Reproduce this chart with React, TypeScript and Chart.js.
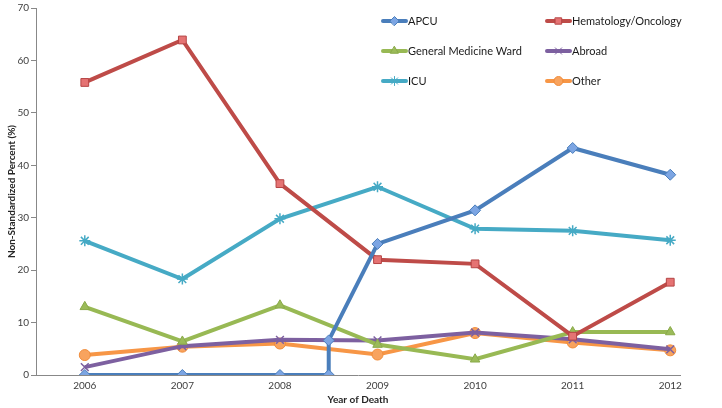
import React, { useEffect, useRef } from 'react';
import { Chart, registerables } from 'chart.js';
import { drawPoint } from 'chart.js/helpers';

Chart.register(...registerables);

const years = [2006, 2007, 2008, 2009, 2010, 2011, 2012];
const apcuX = [2006, 2007, 2008, 2008.5, 2008.5, 2009, 2010, 2011, 2012];
const apcuY = [0, 0, 0, 0, 6.6, 25.0, 31.4, 43.3, 38.2];
const hematology = [55.8, 63.9, 36.5, 22.0, 21.2, 7.4, 17.7];
const generalMedicine = [13.0, 6.4, 13.3, 5.8, 3.0, 8.2, 8.2];
const abroad = [1.5, 5.5, 6.7, 6.6, 8.1, 6.8, 4.9];
const icu = [25.6, 18.3, 29.8, 35.9, 27.9, 27.5, 25.7];
const other = [3.8, 5.4, 6.0, 3.9, 8.0, 6.2, 4.7];
const yTicks = [0, 10, 20, 30, 40, 50, 60, 70];
const seriesNames = ['APCU', 'Hematology/Oncology', 'General Medicine Ward', 'Abroad', 'ICU', 'Other'];

const FONT = 'Lato, "Open Sans", sans-serif';

const toXY = (xs: number[], ys: number[]) => xs.map((x, i) => ({ x, y: ys[i] }));

const legendPlugin = {
  id: 'customLegend',
  afterDraw(chart: any) {
    const ctx = chart.ctx;
    const colX = [383, 547];
    const rowY = [21, 51, 81];
    chart.data.datasets.forEach((ds: any, i: number) => {
      const col = i % 2;
      const row = Math.floor(i / 2);
      const x0 = colX[col];
      const y = rowY[row];
      ctx.save();
      ctx.strokeStyle = ds.borderColor;
      ctx.lineWidth = 4;
      ctx.lineCap = 'round';
      ctx.beginPath();
      ctx.moveTo(x0, y);
      ctx.lineTo(x0 + 23, y);
      ctx.stroke();
      ctx.fillStyle = ds.pointBackgroundColor;
      ctx.strokeStyle = ds.pointBorderColor;
      ctx.lineWidth = 1;
      drawPoint(ctx, { pointStyle: ds.pointStyle, radius: 4.5, borderWidth: 1, rotation: 0 }, x0 + 11.5, y);
      ctx.fillStyle = '#1a1a1a';
      ctx.font = `11px ${FONT}`;
      ctx.textBaseline = 'middle';
      ctx.textAlign = 'left';
      ctx.fillText(ds.label, x0 + 25, y);
      ctx.restore();
    });
  },
};

export default function App() {
  const ref = useRef<HTMLCanvasElement | null>(null);
  useEffect(() => {
    document.body.style.margin = '0';
    if (!ref.current) return;
    const mk = (label: string, data: any, line: string, fill: string, border: string, style: string, radius: number, extra: any = {}) => ({
      label,
      data,
      borderColor: line,
      borderWidth: 4,
      pointStyle: style,
      pointRadius: radius,
      pointBackgroundColor: fill,
      pointBorderColor: border,
      pointBorderWidth: 1,
      tension: 0,
      fill: false,
      ...extra,
    });
    const chart = new Chart(ref.current, {
      type: 'line',
      data: {
        datasets: [
          mk(seriesNames[0], toXY(apcuX, apcuY), '#4A7EBB', '#7CA5E3', '#4A7EBB', 'rectRot', 5.5),
          mk(seriesNames[1], toXY(years, hematology), '#BE4B48', '#E57373', '#B54444', 'rect', 5.5),
          mk(seriesNames[2], toXY(years, generalMedicine), '#98B954', '#9BBB59', '#8AAA4A', 'triangle', 5.5),
          mk(seriesNames[3], toXY(years, abroad), '#7D60A0', '#8064A2', '#7D60A0', 'crossRot', 5.5, { pointBorderWidth: 1.5 }),
          mk(seriesNames[4], toXY(years, icu), '#46AAC5', '#4BACC6', '#46AAC5', 'star', 5.5, { pointBorderWidth: 1.5 }),
          mk(seriesNames[5], toXY(years, other), '#F79646', '#F8A35E', '#F08C3A', 'circle', 5.5),
        ],
      },
      options: {
        animation: false,
        responsive: false,
        maintainAspectRatio: false,
        layout: { padding: { top: 6, right: 42, left: 0, bottom: 0 } },
        plugins: { legend: { display: false }, tooltip: { enabled: false } },
        scales: {
          x: {
            type: 'linear',
            min: 2005.5,
            max: 2012.1,
            afterBuildTicks: (axis: any) => {
              axis.ticks = years.map((v) => ({ value: v }));
            },
            afterFit: (axis: any) => {
              axis.height = 33;
            },
            grid: { display: false, drawTicks: false },
            border: { display: true, color: '#888888', width: 1 },
            ticks: {
              color: '#404040',
              font: { family: FONT, size: 10 },
              padding: 5,
              maxRotation: 0,
              callback: (v: any) => String(v),
            },
            title: {
              display: true,
              text: 'Year of Death',
              color: '#262626',
              font: { family: FONT, size: 10, weight: 'bold' },
              padding: { top: 0, bottom: 2 },
            },
          },
          y: {
            min: 0,
            max: 70,
            afterBuildTicks: (axis: any) => {
              axis.ticks = yTicks.map((v) => ({ value: v }));
            },
            afterFit: (axis: any) => {
              axis.width = 36;
            },
            grid: { drawOnChartArea: false, drawTicks: true, tickLength: 5, color: '#888888' },
            border: { display: true, color: '#888888', width: 1 },
            ticks: {
              color: '#404040',
              font: { family: FONT, size: 10 },
              padding: 2,
            },
            title: {
              display: true,
              text: 'Non-Standardized Percent (%)',
              color: '#262626',
              font: { family: FONT, size: 10, weight: 'bold' },
              padding: { top: 6, bottom: 0 },
            },
          },
        },
      },
      plugins: [legendPlugin],
    } as any);
    return () => chart.destroy();
  }, []);
  return <canvas ref={ref} width={722} height={408} style={{ display: 'block', width: 722, height: 408 }} />;
}
